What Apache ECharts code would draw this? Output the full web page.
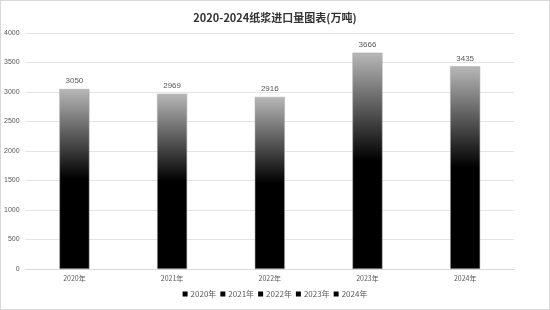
<!DOCTYPE html>
<html><head><meta charset="utf-8">
<script src="https://cdn.jsdelivr.net/npm/echarts@6/dist/echarts.min.js"></script>
<style>html,body{margin:0;padding:0;background:#fff}#c{width:548px;height:308px;border:1px solid #d9d9d9}</style>
</head><body><div id="c"></div>
<script>
var categories = ['2020年','2021年','2022年','2023年','2024年'];
var values = [3050, 2969, 2916, 3666, 3435];
var yTicks = [0,500,1000,1500,2000,2500,3000,3500,4000];

var chart = echarts.init(document.getElementById('c'));
var grad = {type:'linear',x:0,y:0,x2:0,y2:1,colorStops:[{offset:0,color:'#b8b8b8'},{offset:0.5,color:'#000'},{offset:1,color:'#000'}]};
var series = categories.map(function(name,i){
  return {
    name:name, type:'bar', stack:'all', barWidth:30,
    data: categories.map(function(_,j){return j===i?values[i]:'-';}),
    itemStyle:{color:grad, borderColor:'#a6a6a6', borderWidth:0.5},
    label:{show:true, position:'top', distance:4, fontSize:8, color:'#595959', fontFamily:'Liberation Sans'}
  };
});
chart.setOption({
  animation:false,
  title:{text:'2020-2024纸浆进口量图表(万吨)', left:'center', top:6, textStyle:{fontSize:11, fontWeight:'bold', color:'#333', fontFamily:'Noto Sans CJK SC'}},
  legend:{bottom:6, left:'center', itemWidth:5, itemHeight:5, itemGap:4, icon:'rect',
    data:categories.map(function(n){return {name:n, itemStyle:{color:'#000', borderWidth:0}};}),
    textStyle:{fontSize:8, color:'#595959', fontFamily:'Noto Sans CJK SC', padding:[0,0,0,-2]}},
  grid:{left:22, right:35, top:32, bottom:40},
  xAxis:{type:'category', data:categories, axisTick:{show:false}, axisLine:{lineStyle:{color:'#d9d9d9'}},
    axisLabel:{fontSize:7, color:'#595959', margin:6, fontFamily:'Noto Sans CJK SC'}},
  yAxis:{type:'value', min:yTicks[0], max:yTicks[yTicks.length-1], interval:500,
    axisLine:{show:false}, axisTick:{show:false},
    splitLine:{lineStyle:{color:'#e3e3e3'}},
    axisLabel:{fontSize:7, color:'#595959', margin:6, fontFamily:'Liberation Sans', formatter:function(v){return String(v);}}},
  series:series
});
</script></body></html>
